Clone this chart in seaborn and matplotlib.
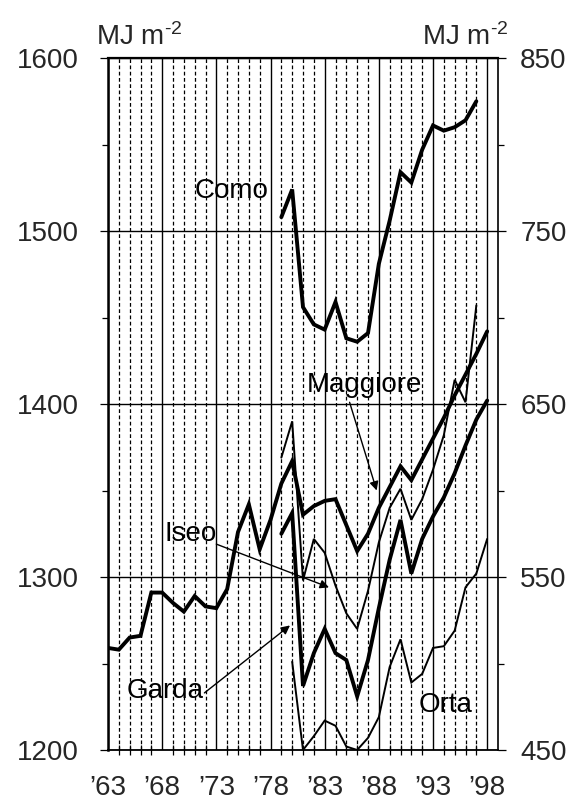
import numpy as np
import pandas as pd
import matplotlib
matplotlib.use("Agg")
import matplotlib.pyplot as plt
import seaborn as sns

sns.set_theme(style="white")
plt.rcParams["font.family"] = ["Liberation Sans", "DejaVu Sans"]
plt.rcParams["mathtext.fontset"] = "custom"
plt.rcParams["mathtext.rm"] = "Liberation Sans"
plt.rcParams["mathtext.it"] = "Liberation Sans"

# annual global radiation
years_maggiore = list(range(1963, 1999))
maggiore = [1259, 1258, 1265, 1266, 1291, 1291, 1285, 1280, 1289, 1283,
            1282, 1293, 1326, 1342, 1316, 1333, 1354, 1367, 1336, 1341,
            1344, 1345, 1330, 1315, 1325, 1340, 1352, 1364, 1356, 1368,
            1380, 1392, 1405, 1417, 1429, 1442]

years_como = list(range(1979, 1998))
como = [1508, 1524, 1456, 1446, 1443, 1459, 1438, 1436, 1441, 1481,
        1506, 1534, 1528, 1547, 1561, 1558, 1560, 1564, 1575]

years_garda = list(range(1979, 1999))
garda = [1325, 1337, 1237, 1256, 1270, 1256, 1252, 1231, 1252, 1282,
         1310, 1333, 1302, 1322, 1335, 1346, 1360, 1376, 1391, 1402]

years_iseo = list(range(1979, 1998))
iseo = [1369, 1390, 1298, 1322, 1314, 1295, 1279, 1270, 1292, 1320,
        1340, 1351, 1333, 1345, 1362, 1382, 1414, 1401, 1457]

# Orta is read on the right-hand axis
years_orta = list(range(1980, 1999))
orta = [501, 450, 458, 467, 464, 452, 450, 457, 469, 498,
        514, 489, 494, 509, 510, 519, 544, 552, 572]

year_ticks = list(range(1963, 1999, 5))
year_labels = ["\u2019" + str(y)[2:] for y in year_ticks]
left_ticks = [1200, 1300, 1400, 1500, 1600]
right_ticks = [450, 550, 650, 750, 850]

fig = plt.figure(figsize=(5.75, 8.09), dpi=100)
ax = fig.add_axes([108 / 575, 1 - 750 / 809, 390 / 575, 692 / 809])

thick = 2.8
thin = 1.4
for yrs, vals, lw in [(years_maggiore, maggiore, thick),
                      (years_como, como, thick),
                      (years_garda, garda, thick),
                      (years_iseo, iseo, thin)]:
    df = pd.DataFrame({"year": yrs, "value": vals})
    sns.lineplot(data=df, x="year", y="value", ax=ax, color="black",
                 lw=lw, solid_joinstyle="miter")

ax.set_xlim(1963, 1999)
ax.set_ylim(1200, 1600)
ax.set_xlabel("")
ax.set_ylabel("")

ax.set_xticks(year_ticks)
ax.set_xticklabels(year_labels)
ax.set_xticks(range(1963, 1999), minor=True)
ax.set_yticks(left_ticks)
ax.set_yticks(range(1250, 1600, 100), minor=True)

ax.grid(axis="x", which="major", color="black", lw=1.0, ls="-")
ax.grid(axis="x", which="minor", color="black", lw=0.9, ls=(0, (3, 2)))
ax.grid(axis="y", which="major", color="black", lw=1.0, ls="-")
ax.set_axisbelow(True)

ax.tick_params(axis="x", which="major", direction="inout", length=8,
               width=0.9, color="black", labelsize=20, pad=14)
ax.tick_params(axis="x", which="minor", direction="inout", length=7,
               width=0.9, color="black", bottom=True)
ax.tick_params(axis="y", which="major", direction="out", length=6,
               width=0.9, color="black", labelsize=20, pad=15, left=True)
ax.tick_params(axis="y", which="minor", direction="out", length=4,
               width=0.9, color="black", left=True)

for side, w in [("left", 1.8), ("bottom", 1.3), ("top", 1.6), ("right", 1.2)]:
    ax.spines[side].set_visible(True)
    ax.spines[side].set_color("black")
    ax.spines[side].set_linewidth(w)

ax2 = ax.twinx()
df_orta = pd.DataFrame({"year": years_orta, "value": orta})
sns.lineplot(data=df_orta, x="year", y="value", ax=ax2, color="black",
             lw=thin, solid_joinstyle="miter")
ax2.set_ylim(450, 850)
ax2.set_yticks(right_ticks)
ax2.set_yticks(range(500, 850, 100), minor=True)
ax2.set_ylabel("")
ax2.grid(False)
ax2.tick_params(axis="y", which="major", direction="out", length=6,
                width=0.9, color="black", labelsize=20, pad=10, right=True)
ax2.tick_params(axis="y", which="minor", direction="out", length=4,
                width=0.9, color="black", right=True)
for side in ["left", "bottom", "top", "right"]:
    ax2.spines[side].set_visible(False)

# units above both axes
unit = r"MJ m$^{\text{-2}}$"
ax.text(-0.031, 1.019, unit, transform=ax.transAxes, ha="left",
        va="baseline", fontsize=20)
ax.text(1.026, 1.019, unit, transform=ax.transAxes, ha="right",
        va="baseline", fontsize=20)

# lake labels
lab = dict(fontsize=20, color="black")
arrow = dict(arrowstyle="-|>", color="black", lw=1.0, mutation_scale=13,
             shrinkA=0, shrinkB=0)
ax.text(1974.4, 1523, "Como", ha="center", va="center", **lab)
ax.text(1994.2, 1226, "Orta", ha="center", va="center", **lab)
ax.text(1986.7, 1411, "Maggiore", ha="center", va="center", **lab)
ax.annotate("", xy=(1987.8, 1350), xytext=(1985.3, 1401), arrowprops=arrow)
ax.text(1970.6, 1325, "Iseo", ha="center", va="center", **lab)
ax.annotate("", xy=(1983.4, 1294), xytext=(1973.0, 1319), arrowprops=arrow)
ax.text(1968.3, 1234, "Garda", ha="center", va="center", **lab)
ax.annotate("", xy=(1979.8, 1272), xytext=(1971.9, 1233), arrowprops=arrow)

fig.savefig("out.png", dpi=100, facecolor="white")
